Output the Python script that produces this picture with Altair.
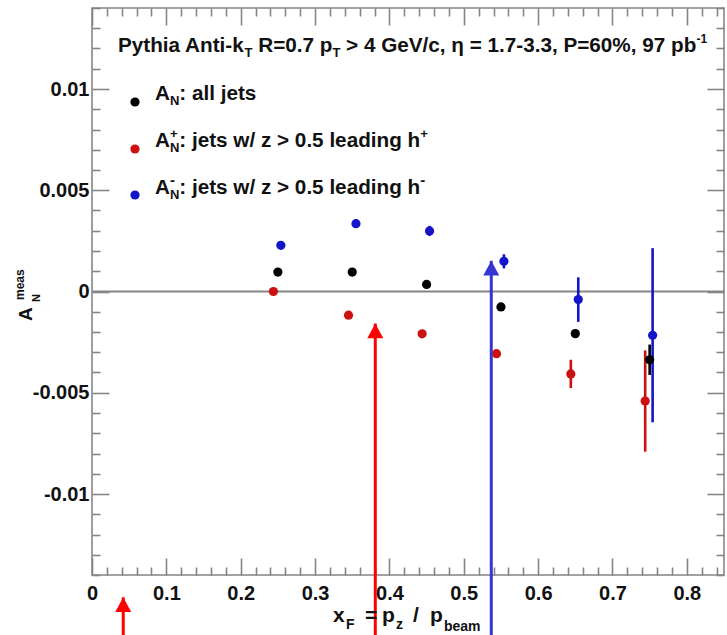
import altair as alt
import pandas as pd

# ---------------- data ----------------
series_names = ["all", "pos", "neg"]
x_all = [0.25, 0.35, 0.45, 0.55, 0.65, 0.75]
an_all = [0.00096, 0.00096, 0.00035, -0.00076, -0.00208, -0.00337]
err_all = [0.0001, 0.0001, 0.0001, 0.00015, 0.0002, 0.00075]

x_pos = [0.244, 0.345, 0.444, 0.544, 0.644, 0.744]
an_pos = [0.0, -0.00117, -0.00209, -0.00307, -0.00407, -0.00541]
err_pos = [0.0001, 0.0001, 0.0001, 0.0002, 0.0007, 0.0025]

x_neg = [0.254, 0.355, 0.454, 0.554, 0.654, 0.754]
an_neg = [0.00228, 0.00335, 0.00299, 0.00149, -0.0004, -0.00216]
err_neg = [0.00012, 0.00012, 0.00025, 0.00035, 0.0011, 0.0043]

arrow_x = [0.042, 0.381, 0.537]
arrow_tip = [-0.0151, -0.00158, 0.00152]
arrow_series = ["ared", "ared", "ablue"]

x_major = [0, 0.1, 0.2, 0.3, 0.4, 0.5, 0.6, 0.7, 0.8]
x_minor = [round(i * 0.02, 2) for i in range(43) if i % 5]
y_major = [-0.01, -0.005, 0, 0.005, 0.01]
y_minor = [round(i * 0.001, 3) for i in range(-14, 15) if i % 5]

# ---------------- style ----------------
FONT = "Liberation Sans"
GRAY = "#858585"
COL = {"all": "#000000", "pos": "#cc1010", "neg": "#1414c8",
       "ared": "#ff0000", "ablue": "#3535d0"}
W, H = 632, 567
PADL, PADT = 92, 8

xs = alt.Scale(domain=[0, 0.85], nice=False, zero=False)
ys = alt.Scale(domain=[-0.014, 0.014], nice=False, zero=False)
cs = alt.Scale(domain=list(COL.keys()), range=list(COL.values()))

rows = []
for s, xx, yy, ee in [("all", x_all, an_all, err_all),
                      ("pos", x_pos, an_pos, err_pos),
                      ("neg", x_neg, an_neg, err_neg)]:
    for a, b, c in zip(xx, yy, ee):
        rows.append({"s": s, "x": a, "y": b, "lo": b - c, "hi": b + c})
df = pd.DataFrame(rows)
arr = pd.DataFrame({"x": arrow_x, "tip": arrow_tip, "s": arrow_series})

X = alt.X("x:Q", scale=xs, axis=None)

zero = alt.Chart(pd.DataFrame({"z": [0.0]})).mark_rule(
    color=GRAY, strokeWidth=2).encode(y=alt.Y("z:Q", scale=ys, axis=None))

bars = alt.Chart(df).mark_rule(strokeWidth=2.6).encode(
    x=X, y=alt.Y("lo:Q", scale=ys, axis=None), y2="hi:Q",
    color=alt.Color("s:N", scale=cs, legend=None))

pts = alt.Chart(df).mark_circle(size=85, opacity=1).encode(
    x=X, y=alt.Y("y:Q", scale=ys, axis=None),
    color=alt.Color("s:N", scale=cs, legend=None))

arrow_lines = alt.Chart(arr).mark_rule(strokeWidth=3, clip=False).encode(
    x=X, y=alt.Y("tip:Q", scale=ys, axis=None), y2=alt.value(H + 60),
    color=alt.Color("s:N", scale=cs, legend=None))
arrow_heads = alt.Chart(arr).mark_point(
    shape="M0,0L-1,1.85L1,1.85Z", filled=True, size=256, opacity=1,
    strokeWidth=0, clip=False).encode(
    x=X, y=alt.Y("tip:Q", scale=ys, axis=None),
    color=alt.Color("s:N", scale=cs, legend=None))

# ---------------- text annotations (pixel layout) ----------------
CW = {' ': 278, '%': 889, ',': 278, '-': 333, '.': 278, '/': 278, ':': 333,
      '=': 584, '>': 584, '+': 584, 'A': 722, 'G': 778, 'N': 722, 'P': 667,
      'R': 722, 'T': 611, 'V': 667, 'a': 556, 'b': 611, 'c': 556, 'd': 611,
      'e': 556, 'g': 611, 'h': 611, 'i': 278, 'j': 278, 'k': 556, 'l': 278,
      'm': 889, 'n': 611, 'p': 611, 's': 556, 't': 333, 'w': 778, 'y': 556,
      'z': 500, 'η': 611}


def tw(s, fs):
    return sum(CW.get(c, 556) for c in s) * fs / 1000.0


def run(parts, x0, base):
    out, x = [], x0
    for text, fs, dy, adv in parts:
        core = text.lstrip(" ")
        lead = tw(text[:len(text) - len(core)], fs)
        out.append((core.rstrip(" "), x + lead, base + dy, fs, 0))
        if adv:
            x += tw(text, fs)
    return out


HF, LF = 20.7, 20.7
segs = []
segs += run([("Pythia Anti-k", HF, 0, True), ("T", 13, 5, True),
             (" R=0.7 p", HF, 0, True), ("T", 13, 5, True),
             (" > 4 GeV/c, η = 1.7-3.3, P=60%, 97 pb", HF, 0, True),
             ("-1", 12, -9, True)], 118, 52)
segs += run([("A", LF, 0, True), ("N", 13, 5, True),
             (": all jets", LF, 0, True)], 155, 100)
segs += run([("A", LF, 0, True), ("+", 13, -9, False), ("N", 13, 5, True),
             (": jets w/ z > 0.5 leading h", LF, 0, True),
             ("+", 13, -9, True)], 155, 147)
segs += run([("A", LF, 0, True), ("-", 15, -9, False), ("N", 13, 5, True),
             (": jets w/ z > 0.5 leading h", LF, 0, True),
             ("-", 15, -9, True)], 155, 194)
# x-axis title
segs += [("x", 333, 622, 21, 0), ("F", 346, 629, 14, 0), ("=", 365, 622, 21, 0),
         ("p", 382, 622, 21, 0), ("z", 396, 629, 14, 0), ("/", 413, 622, 21, 0),
         ("p", 430, 622, 21, 0), ("beam", 444, 631, 14, 0)]
# y-axis title (rotated)
segs += [("A", 32, 321, 19, 270), ("N", 40, 302, 11, 270),
         ("meas", 24, 300, 12, 270)]

texts = []
for t, px, py, fs, ang in segs:
    kw = dict(align="left", baseline="alphabetic", font=FONT,
              fontWeight="bold", fontSize=fs, color="#111111")
    if ang:
        kw["angle"] = ang
    texts.append(alt.Chart(alt.Data(values=[{}])).mark_text(**kw).encode(
        x=alt.value(px - PADL), y=alt.value(py - PADT), text=alt.value(t)))

legend_dots = alt.Chart(pd.DataFrame({
    "s": series_names, "py": [94, 141, 187]})).mark_circle(size=85, opacity=1).encode(
    x=alt.value(135 - PADL), y=alt.Y("py:Q", scale=None, axis=None),
    color=alt.Color("s:N", scale=cs, legend=None))

# ---------------- axes (ROOT style: inward ticks, labels) ----------------
dummy = pd.DataFrame({"x": [0.0], "y": [0.0]})


def axis_layer(xaxis=None, yaxis=None):
    return alt.Chart(dummy).mark_point(opacity=0).encode(
        x=alt.X("x:Q", scale=xs, axis=xaxis),
        y=alt.Y("y:Q", scale=ys, axis=yaxis))


def tick_axis(orient, values, size):
    return alt.Axis(orient=orient, values=values, tickSize=size, offset=-size,
                    labels=False, domain=False, grid=False, title=None,
                    ticks=True, tickColor=GRAY, tickWidth=1.6)


x_lab = alt.Axis(orient="bottom", values=x_major, tickSize=0, domain=False,
                 grid=False, title=None, labelFont=FONT, labelFontSize=20,
                 labelFontWeight="bold", labelColor="#111111", labelPadding=8,
                 labelFlush=False, labelOverlap=False,
                 labelExpr="toString(datum.value)")
y_lab = alt.Axis(orient="left", values=y_major, tickSize=0, domain=False,
                 grid=False, title=None, labelFont=FONT, labelFontSize=20,
                 labelFontWeight="bold", labelColor="#111111", labelPadding=3,
                 labelFlush=False, labelOverlap=False,
                 labelExpr="toString(datum.value)")

axes = [
    axis_layer(xaxis=x_lab),
    axis_layer(yaxis=y_lab),
    axis_layer(xaxis=tick_axis("bottom", x_major, 17)),
    axis_layer(xaxis=tick_axis("bottom", x_minor, 8)),
    axis_layer(xaxis=tick_axis("top", x_major, 17)),
    axis_layer(xaxis=tick_axis("top", x_minor, 8)),
    axis_layer(yaxis=tick_axis("left", y_major, 17)),
    axis_layer(yaxis=tick_axis("left", y_minor, 8)),
    axis_layer(yaxis=tick_axis("right", y_major, 17)),
    axis_layer(yaxis=tick_axis("right", y_minor, 8)),
]

chart = alt.layer(
    *axes, zero, bars, pts, arrow_lines, arrow_heads, legend_dots, *texts
).resolve_axis(x="independent", y="independent").properties(
    width=W, height=H,
    autosize=alt.AutoSizeParams(type="none"),
    padding={"left": PADL, "top": PADT, "right": 727 - PADL - W,
             "bottom": 635 - PADT - H},
    background="white",
).configure_view(stroke=GRAY, strokeWidth=1.6)

chart.save("out.html", embed_options={"renderer": "svg", "actions": False})
